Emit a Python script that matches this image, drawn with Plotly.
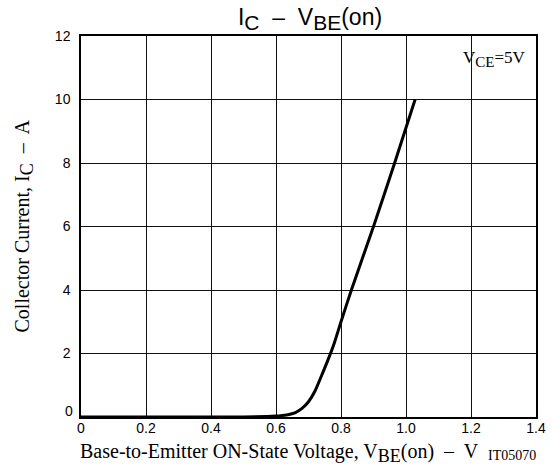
import plotly.graph_objects as go

# I_C vs V_BE(on) transfer curve at V_CE = 5 V
vbe = [0.0, 0.50, 0.60, 0.62, 0.64, 0.66, 0.68, 0.70, 0.72, 0.74, 0.76, 0.78,
       0.80, 0.832, 0.90, 0.965, 1.028]
ic = [0.0, 0.0, 0.03, 0.05, 0.08, 0.14, 0.27, 0.48, 0.82, 1.3, 1.8, 2.35,
      3.0, 4.0, 6.0, 8.0, 10.0]

x_ticks = [0, 0.2, 0.4, 0.6, 0.8, 1.0, 1.2, 1.4]
x_tick_text = ["0", "0.2", "0.4", "0.6", "0.8", "1.0", "1.2", "1.4"]
y_ticks = [2, 4, 6, 8, 10, 12]
y_tick_text = ["2", "4", "6", "8", "10", "12"]
y_zero_label = "0"

SERIF = "Liberation Serif, Times New Roman, serif"
SANS = "Liberation Sans, Arial, sans-serif"


def sub(text, size):
    """Subscript drawn nearly at full size, datasheet style."""
    return f"<sub><span style='font-size:{size}px'>{text}</span></sub>"


fig = go.Figure()
fig.add_trace(go.Scatter(
    x=vbe, y=ic, mode="lines",
    line=dict(color="black", width=3, shape="spline", smoothing=0.6),
    hoverinfo="skip", showlegend=False,
))

axis_common = dict(
    showgrid=True, gridcolor="#111111", gridwidth=1,
    showline=True, linecolor="black", linewidth=1.5, mirror=True,
    zeroline=False, ticks="",
    tickfont=dict(family=SANS, size=14, color="black"),
)

fig.update_layout(
    width=558, height=465,
    margin=dict(l=81, r=16, t=36, b=48),
    paper_bgcolor="white", plot_bgcolor="white",
    xaxis=dict(range=[0, 1.4], tickvals=x_ticks, ticktext=x_tick_text,
               ticklabelstandoff=-3, **axis_common),
    yaxis=dict(range=[0, 12], tickvals=y_ticks, ticktext=y_tick_text,
               ticklabelstandoff=6, **axis_common),
    title=dict(
        text="I" + sub("C", 21) + "  –  V" + sub("BE", 21) + "(on)",
        font=dict(family=SANS, size=23, color="black"),
        x=310 / 558, xanchor="center", y=1 - 17 / 465, yanchor="middle",
    ),
    annotations=[
        dict(
            text=y_zero_label,
            xref="paper", yref="y", x=0, y=0, xanchor="right",
            yanchor="middle", xshift=-6, yshift=6, showarrow=False,
            font=dict(family=SANS, size=14, color="black"),
        ),
        dict(
            text="Base-to-Emitter ON-State Voltage, V" + sub("BE", 18)
                 + "(on)  –  V",
            xref="paper", yref="paper", x=0, y=0, xanchor="left", yanchor="top",
            xshift=-3, yshift=-21, showarrow=False,
            font=dict(family=SERIF, size=20, color="black"),
        ),
        dict(
            text="IT05070",
            xref="paper", yref="paper", x=1, y=0, xanchor="right", yanchor="top",
            xshift=2, yshift=-29, showarrow=False,
            font=dict(family=SERIF, size=14, color="black"),
        ),
        dict(
            text="Collector Current, I" + sub("C", 18) + "  –  A",
            xref="paper", yref="paper", x=0, y=0.5, xanchor="center",
            yanchor="middle", xshift=-58, textangle=-90, showarrow=False,
            font=dict(family=SERIF, size=20, color="black"),
        ),
        dict(
            text="V" + sub("CE", 15) + "=5V",
            xref="paper", yref="paper", x=1, y=1, xanchor="right",
            yanchor="top", xshift=-8, yshift=-10, showarrow=False,
            font=dict(family=SERIF, size=17, color="black"),
        ),
    ],
)

fig.write_html("out.html")
